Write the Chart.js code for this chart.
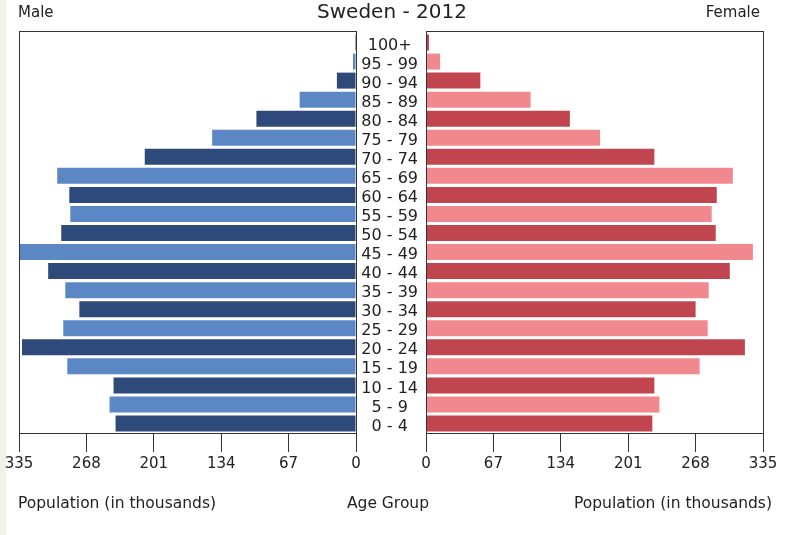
<!DOCTYPE html>
<html>
<head>
<meta charset="utf-8">
<script src="https://cdn.jsdelivr.net/npm/chart.js@4"></script>
<style>
body { margin: 0; background: #fff; font-family: "DejaVu Sans", sans-serif; color: #222; }
#wrap { position: relative; width: 800px; height: 535px; overflow: hidden; background: #fff; }
#edge { position: absolute; left: 0; top: 0; width: 6px; height: 535px; background: #eef4e8; }
#male-box { position: absolute; left: 0; top: 0; width: 370px; height: 535px; }
#female-box { position: absolute; left: 356px; top: 0; width: 444px; height: 535px; }
.txt { position: absolute; white-space: nowrap; line-height: 1; }
</style>
</head>
<body>
<div id="wrap">
	<div id="edge"></div>
	<div id="male-box"><canvas id="male-chart"></canvas></div>
	<div id="female-box"><canvas id="female-chart"></canvas></div>
	<div class="txt" style="left:18px;top:5px;font-size:15px">Male</div>
	<div class="txt" style="left:0;width:784px;text-align:center;top:1px;font-size:20px">Sweden - 2012</div>
	<div class="txt" style="right:40px;top:5px;font-size:15px">Female</div>
	<div class="txt" style="left:18px;top:496px;font-size:15.5px">Population (in thousands)</div>
	<div class="txt" style="left:0;width:776px;text-align:center;top:496px;font-size:15.5px">Age Group</div>
	<div class="txt" style="right:28px;top:496px;font-size:15.5px">Population (in thousands)</div>
</div>
<script>
// age groups, youngest first
const ageGroups = ['0 - 4', '5 - 9', '10 - 14', '15 - 19', '20 - 24', '25 - 29', '30 - 34',
	'35 - 39', '40 - 44', '45 - 49', '50 - 54', '55 - 59', '60 - 64', '65 - 69',
	'70 - 74', '75 - 79', '80 - 84', '85 - 89', '90 - 94', '95 - 99', '100+'];

// population in thousands
const male = [239, 245, 241, 287, 332, 291, 275, 289, 306, 335, 293,
	284, 285, 297, 210, 143, 99, 56, 19, 3, 1];
const female = [225, 232, 227, 272, 317, 280, 268, 281, 302, 325, 288,
	284, 289, 305, 227, 173, 143, 104, 54, 14, 3];

const axisTicks = [0, 67, 134, 201, 268, 335];

const maleColors = ['#2e4a7a', '#5b88c4'];
const femaleColors = ['#c0454e', '#f0888e'];

// box round each panel, its top a little above the first bar
const frame = {
	id: 'frame',
	afterDatasetsDraw(chart) {
		const a = chart.chartArea;
		const ctx = chart.ctx;
		const top = Math.round(a.top) - 2;
		ctx.save();
		ctx.strokeStyle = '#333';
		ctx.lineWidth = 1;
		ctx.strokeRect(Math.round(a.left) + 0.5, top + 0.5,
			Math.round(a.right - a.left), Math.round(a.bottom) - top);
		ctx.restore();
	}
};

function xScale(reverse) {
	return {
		reverse: reverse,
		min: 0,
		max: 335,
		afterBuildTicks: (scale) => { scale.ticks = axisTicks.map(v => ({ value: v })); },
		afterFit: (scale) => { scale.height = 45; },
		grid: { drawOnChartArea: false, drawTicks: true, tickLength: 19, color: '#333' },
		border: { color: '#333' },
		ticks: { color: '#222', padding: 3, maxRotation: 0, font: { family: 'DejaVu Sans', size: 15 } }
	};
}

function barData(values, colors) {
	return {
		labels: ageGroups,
		datasets: [{
			data: values,
			backgroundColor: values.map((v, i) => colors[i % 2]),
			barPercentage: 0.84,
			categoryPercentage: 1
		}]
	};
}

new Chart(document.getElementById('male-chart'), {
	type: 'bar',
	data: barData(male, maleColors),
	options: {
		indexAxis: 'y',
		responsive: true,
		maintainAspectRatio: false,
		animation: false,
		layout: { padding: { left: 19, right: 14, top: 33, bottom: 57 } },
		plugins: { legend: { display: false }, tooltip: { enabled: false } },
		scales: {
			x: xScale(true),
			y: { display: false, reverse: true }
		}
	},
	plugins: [frame]
});

new Chart(document.getElementById('female-chart'), {
	type: 'bar',
	data: barData(female, femaleColors),
	options: {
		indexAxis: 'y',
		responsive: true,
		maintainAspectRatio: false,
		animation: false,
		layout: { padding: { left: 0, right: 37, top: 33, bottom: 57 } },
		plugins: { legend: { display: false }, tooltip: { enabled: false } },
		scales: {
			x: xScale(false),
			y: {
				reverse: true,
				afterFit: (scale) => { scale.width = 70; },
				grid: { display: false, drawTicks: false },
				border: { display: false },
				ticks: {
					color: '#222',
					crossAlign: 'center',
					padding: 8,
					labelOffset: 3,
					autoSkip: false,
					font: { family: 'DejaVu Sans', size: 16 }
				}
			}
		}
	},
	plugins: [frame]
});
</script>
</body>
</html>
